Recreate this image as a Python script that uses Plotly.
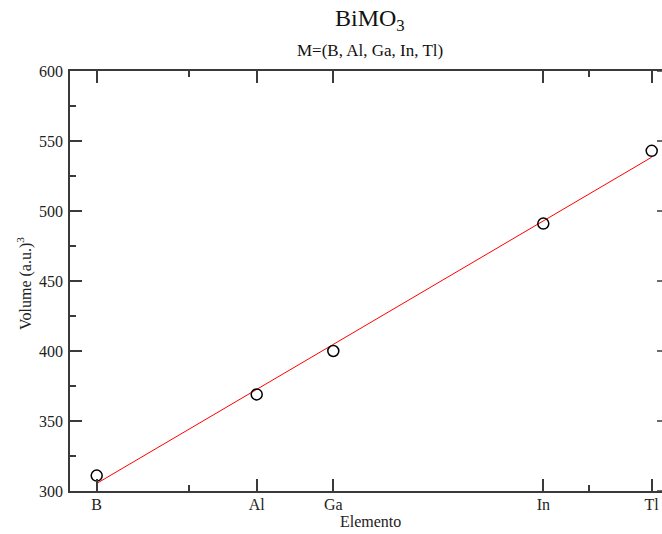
import numpy as np
import plotly.graph_objects as go

# Data
elements = ["B", "Al", "Ga", "In", "Tl"]
x_pos = [0.267, 1.867, 2.633, 4.733, 5.817]      # position of each element on the x axis
volume = [311, 369, 400, 491, 543]               # Volume (a.u.)^3
x_minor = [1.19, 5.187]
y_ticks = [300, 350, 400, 450, 500, 550, 600]

# Linear fit (red line)
slope, intercept = np.polyfit(x_pos, volume, 1)
fit_x = [x_pos[0], x_pos[-1]]
fit_y = [slope * v + intercept for v in fit_x]

FONT = "Liberation Serif"
AX = "#3a3a3a"
PW, PH = 592, 420      # plot area size in px
PX0, PY0 = 70, 71      # plot area top-left on the page

def px(xp):
    return (xp - PX0) / PW

def py(yp):
    return (PY0 + PH - yp) / PH

fig = go.Figure()
fig.add_trace(go.Scatter(x=fit_x, y=fit_y, mode="lines",
                         line=dict(color="red", width=1), showlegend=False))
fig.add_trace(go.Scatter(x=x_pos, y=volume, mode="markers",
                         marker=dict(symbol="circle-open", size=11, color="black",
                                     line=dict(color="black", width=1.5)),
                         showlegend=False, cliponaxis=False))

fig.update_layout(
    width=662, height=534,
    margin=dict(l=70, r=0, t=71, b=43),
    paper_bgcolor="white", plot_bgcolor="white",
    font=dict(family=FONT, color="#222", size=16),
    xaxis=dict(range=[0, 5.92], tickmode="array", tickvals=x_pos, ticktext=elements,
               ticks="inside", ticklen=12, tickwidth=1.5, tickcolor=AX,
               minor=dict(tickmode="array", tickvals=x_minor, ticks="inside",
                          ticklen=6, tickwidth=1.5, tickcolor=AX),
               showline=True, linecolor=AX, linewidth=1.5, mirror="ticks",
               showgrid=False, zeroline=False, ticklabelstandoff=-2,
               tickfont=dict(family=FONT, size=16, color="#222")),
    yaxis=dict(range=[300, 600], tickmode="array", tickvals=y_ticks,
               ticks="inside", ticklen=12, tickwidth=1.5, tickcolor=AX,
               minor=dict(dtick=25, tick0=0, ticks="inside", ticklen=6,
                          tickwidth=1.5, tickcolor=AX),
               showline=True, linecolor=AX, linewidth=1.5, mirror=False,
               showgrid=False, zeroline=False, ticklabelstandoff=2,
               tickfont=dict(family=FONT, size=16, color="#222")),
)

# Right-side y ticks (the frame's right edge sits just past the window)
for v in y_ticks:
    fig.add_shape(type="line", xref="paper", yref="y",
                  x0=px(657), x1=1.0, y0=v, y1=v,
                  line=dict(color=AX, width=1.5))

fig.add_annotation(text="BiMO<sub>3</sub>", xref="paper", yref="paper",
                   x=px(370), y=py(20), xanchor="center", yanchor="middle",
                   showarrow=False, font=dict(family=FONT, size=24, color="#111"))
fig.add_annotation(text="M=(B, Al, Ga, In, Tl)", xref="paper", yref="paper",
                   x=px(370), y=py(51), xanchor="center", yanchor="middle",
                   showarrow=False, font=dict(family=FONT, size=17, color="#111"))
fig.add_annotation(text="Elemento", xref="paper", yref="paper",
                   x=px(370), y=py(521), xanchor="center", yanchor="middle",
                   showarrow=False, font=dict(family=FONT, size=16, color="#222"))
fig.add_annotation(text="Volume (a.u.)<sup>3</sup>", xref="paper", yref="paper",
                   x=px(24), y=py(284), xanchor="center", yanchor="middle",
                   textangle=-90, showarrow=False,
                   font=dict(family=FONT, size=16, color="#222"))

fig.write_html("out.html", config={"displayModeBar": False},
               post_script="document.body.style.margin='0';document.body.style.overflow='hidden';")
